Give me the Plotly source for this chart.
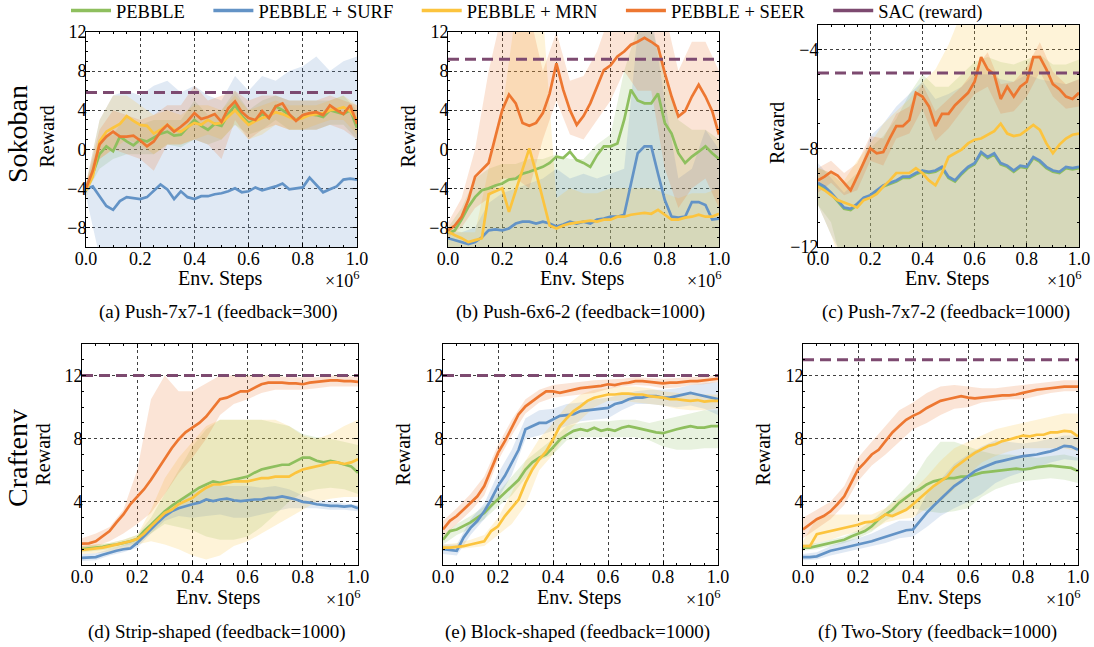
import plotly.graph_objects as go

# ---------------- data ----------------
X_MEAN = [i * 0.025 for i in range(41)]
X_BAND = [i * 0.05 for i in range(21)]
SERIES = ["PEBBLE", "PEBBLE + SURF", "PEBBLE + MRN", "PEBBLE + SEER"]
SAC_LABEL = "SAC (reward)"

# (a) Push-7x7-1
A_PEBBLE = [-4.0,-2.5,-0.5,0.3,-0.2,1.3,0.8,0.4,1.0,0.8,1.2,1.6,1.8,1.4,1.5,2.3,3.0,2.4,2.0,2.6,2.4,3.6,4.5,3.4,2.7,3.0,3.6,3.2,4.4,4.0,3.5,3.0,3.4,3.6,3.5,3.3,4.0,3.8,3.6,4.0,2.2]
A_SURF = [-4.1,-3.8,-4.8,-5.8,-6.2,-5.3,-4.9,-5.0,-5.1,-4.9,-4.3,-3.6,-4.1,-5.1,-4.3,-4.9,-5.1,-4.8,-4.8,-4.6,-4.5,-4.3,-4.0,-4.4,-4.3,-3.9,-4.2,-4.0,-3.8,-3.5,-4.1,-4.0,-3.9,-2.9,-3.7,-4.4,-4.1,-3.8,-3.1,-3.0,-3.1]
A_MRN = [-4.2,-2.8,0.8,1.8,2.2,2.6,3.4,2.9,2.5,2.4,1.6,2.0,2.5,2.0,1.8,2.3,2.7,2.5,3.0,2.6,2.7,3.3,4.0,3.2,2.5,2.9,3.2,3.4,3.8,3.6,3.3,3.0,3.2,3.5,3.6,3.7,4.0,4.1,4.3,3.9,3.0]
A_SEER = [-4.0,-2.2,0.5,1.3,1.8,1.3,1.3,1.4,0.9,0.3,0.8,1.8,2.5,1.8,2.3,2.9,3.7,3.1,3.3,3.6,2.8,4.2,4.9,3.8,3.2,3.0,3.9,3.2,4.4,4.7,3.6,2.9,3.5,3.7,3.8,3.5,4.5,4.0,3.6,4.5,2.6]
A_PEBBLE_HI = [-3.5,1.0,1.5,3.5,2.5,3.0,3.0,3.0,5.0,3.5,4.0,6.0,4.0,5.0,5.5,5.0,5.0,5.0,5.0,5.5,4.0]
A_PEBBLE_LO = [-4.5,-2.0,-1.0,-0.5,-0.5,-0.5,0.5,0.2,1.0,0.5,1.0,2.5,1.5,2.0,3.0,2.0,2.0,2.0,2.5,2.5,1.0]
A_SURF_HI = [-3.5,3.0,5.5,6.0,5.5,6.5,7.0,5.8,6.5,5.5,5.0,7.5,6.0,7.5,7.0,8.0,8.5,9.5,8.0,9.0,9.5]
A_SURF_LO = [-4.8,-11.0,-14.0,-14.0,-14.0,-14.0,-14.0,-14.0,-14.0,-14.0,-14.0,-14.0,-14.0,-14.0,-14.0,-14.0,-14.0,-14.0,-14.0,-14.0,-14.0]
A_MRN_HI = [-3.5,3.0,5.5,5.5,4.5,3.5,4.0,3.5,4.5,4.5,4.0,5.5,4.0,4.5,5.0,4.5,4.5,4.5,5.0,5.5,4.5]
A_MRN_LO = [-5.0,-1.0,0.0,1.0,0.5,-0.5,0.5,0.5,1.0,1.5,1.0,2.5,1.0,1.5,2.5,2.0,2.0,2.5,3.0,3.0,1.5]
A_SEER_HI = [-3.5,2.0,4.0,3.5,3.0,3.5,4.5,4.5,6.5,5.0,5.5,6.0,5.0,5.5,5.5,5.0,5.0,5.0,5.5,5.0,4.5]
A_SEER_LO = [-4.5,-1.0,0.0,-0.5,-1.0,-2.2,0.5,0.5,1.0,0.5,-1.0,3.0,1.0,2.0,2.5,2.0,2.0,2.0,2.5,2.0,1.0]
A_SAC = 5.8

# (b) Push-6x6-2
B_PEBBLE = [-8.6,-8.3,-7.2,-5.9,-4.9,-4.2,-4.0,-3.7,-3.5,-3.1,-3.0,-2.5,-2.3,-2.05,-1.8,-1.4,-0.75,-0.9,-0.25,-1.1,-1.4,-1.8,-0.6,0.3,0.3,0.6,3.0,6.1,5.0,4.7,4.7,5.7,2.7,1.6,-0.4,-1.4,-0.75,-0.25,0.3,-0.4,-1.0]
B_SURF = [-9.1,-9.3,-9.5,-9.7,-9.5,-9.0,-8.3,-8.2,-8.3,-8.1,-7.6,-7.4,-7.4,-7.6,-7.4,-7.6,-7.9,-7.7,-7.4,-7.6,-7.4,-7.6,-7.2,-7.1,-6.9,-6.9,-6.7,-3.5,-0.4,0.3,0.3,-2.5,-5.2,-6.9,-7.0,-6.9,-5.4,-5.4,-5.7,-7.2,-7.1]
B_MRN = [-8.4,-8.8,-9.1,-9.5,-9.3,-9.1,-4.6,-4.3,-4.0,-6.4,-4.2,-1.9,0.1,-2.4,-5.2,-7.8,-8.1,-7.8,-7.6,-7.5,-7.4,-7.3,-7.4,-7.2,-7.2,-6.9,-6.9,-6.7,-6.6,-6.5,-6.6,-6.2,-6.7,-7.2,-7.2,-7.0,-6.9,-6.7,-6.9,-6.9,-6.6]
B_SEER = [-8.3,-7.8,-6.9,-5.2,-2.8,-2.1,-1.4,1.3,4.0,5.6,4.7,2.7,2.4,2.7,3.7,5.7,8.8,6.1,4.0,2.5,3.4,4.7,6.4,8.1,8.6,9.5,10.0,10.7,11.0,11.4,11.0,10.5,7.8,5.4,3.35,3.9,5.4,6.6,5.4,3.9,1.5]
B_PEBBLE_HI = [-8.0,-6.0,-3.0,-2.0,-1.5,-1.5,-1.0,-1.0,-0.5,-1.0,-1.0,0.5,1.5,8.0,12.5,12.5,8.0,3.0,2.0,2.0,1.0]
B_PEBBLE_LO = [-11.0]*21
B_SURF_HI = [-8.5,-8.5,-8.0,-5.5,-4.5,-4.0,-3.5,-3.0,-2.0,-3.0,-2.5,-3.0,-2.5,-2.0,12.0,14.0,5.0,-3.0,-2.0,2.0,0.0]
B_SURF_LO = [-11.0]*21
B_MRN_HI = [-8.0,-8.5,-8.5,-2.0,4.0,14.0,14.0,14.0,-5.0,-4.0,-4.5,-4.5,-4.0,-4.0,-4.0,-4.0,-4.5,-5.0,-4.5,-4.5,-4.0]
B_MRN_LO = [-11.0]*21
B_SEER_HI = [-7.5,-5.0,0.0,8.0,14.0,14.0,14.0,8.0,12.0,7.0,7.5,10.0,14.0,14.0,14.0,14.0,14.0,8.0,11.0,11.0,8.0]
B_SEER_LO = [-9.0,-8.0,-6.0,-5.0,-3.0,-3.0,-4.0,1.0,5.0,1.5,1.0,3.0,5.0,8.0,6.0,6.0,-2.0,-6.0,-4.0,-3.0,-6.0]
B_SAC = 9.2

# (c) Push-7x7-2
C_PEBBLE = [-9.45,-9.6,-9.85,-10.15,-10.45,-10.5,-10.3,-10.05,-9.95,-9.75,-9.55,-9.45,-9.35,-9.2,-9.2,-9.05,-8.95,-9.0,-8.95,-8.8,-9.2,-9.35,-9.05,-8.8,-8.65,-8.2,-8.4,-8.25,-8.65,-8.75,-8.95,-8.75,-8.8,-8.4,-8.55,-8.8,-8.95,-9.0,-8.8,-8.85,-8.8]
C_SURF = [-9.4,-9.55,-9.8,-10.1,-10.4,-10.45,-10.25,-10.0,-9.9,-9.7,-9.5,-9.4,-9.3,-9.15,-9.15,-9.0,-8.9,-8.95,-8.9,-8.75,-9.15,-9.3,-9.0,-8.75,-8.6,-8.15,-8.35,-8.2,-8.6,-8.7,-8.9,-8.7,-8.75,-8.35,-8.5,-8.75,-8.9,-8.95,-8.75,-8.8,-8.75]
C_MRN = [-9.55,-9.7,-9.9,-10.1,-10.2,-10.3,-10.4,-10.1,-10.0,-9.85,-9.55,-9.3,-9.0,-9.0,-9.0,-8.8,-9.0,-9.3,-9.5,-9.0,-8.35,-8.2,-8.05,-7.8,-7.65,-7.6,-7.45,-7.3,-7.0,-7.4,-7.5,-7.45,-7.25,-7.05,-7.25,-7.8,-8.2,-7.85,-7.6,-7.45,-7.4]
C_SEER = [-9.3,-9.15,-8.95,-9.1,-9.4,-9.7,-9.15,-8.6,-8.0,-8.2,-8.15,-7.6,-7.1,-7.1,-6.85,-5.75,-5.9,-6.3,-7.1,-6.6,-6.6,-6.25,-6.0,-5.75,-5.3,-4.3,-4.8,-5.0,-6.0,-5.5,-5.9,-5.5,-5.3,-4.3,-4.3,-4.8,-5.4,-5.6,-5.9,-6.0,-5.75]
C_PEBBLE_HI = [-8.8,-9.0,-9.5,-9.0,-8.0,-7.5,-6.8,-5.8,-5.0,-5.5,-5.5,-5.0,-4.5,-4.3,-4.5,-4.6,-4.4,-4.2,-4.6,-4.6,-4.4]
C_PEBBLE_LO = [-10.3,-11.0,-13.0,-13.0,-13.0,-13.0,-13.0,-13.0,-13.0,-13.0,-13.0,-13.0,-13.0,-13.0,-13.0,-13.0,-13.0,-13.0,-13.0,-13.0,-13.0]
C_SURF_HI = [-8.6,-9.2,-9.8,-9.3,-7.5,-7.0,-6.3,-5.8,-5.3,-6.0,-5.8,-5.5,-5.0,-5.0,-5.2,-5.3,-5.0,-5.2,-5.3,-5.4,-5.2]
C_SURF_LO = [-10.3,-11.5,-12.5,-13.0,-13.0,-13.0,-13.0,-13.0,-13.0,-13.0,-13.0,-13.0,-13.0,-13.0,-13.0,-13.0,-13.0,-13.0,-13.0,-13.0,-13.0]
C_MRN_HI = [-8.8,-9.0,-9.3,-8.5,-7.8,-7.0,-6.5,-6.0,-5.3,-4.8,-3.8,-2.5,-2.0,-2.0,-2.0,-2.0,-2.0,-2.0,-2.0,-2.0,-2.0]
C_MRN_LO = [-10.3,-11.5,-13.0,-13.0,-13.0,-13.0,-13.0,-13.0,-13.0,-13.0,-13.0,-13.0,-13.0,-13.0,-13.0,-13.0,-13.0,-13.0,-13.0,-13.0,-13.0]
C_SEER_HI = [-8.8,-8.5,-9.0,-8.6,-7.5,-7.6,-6.6,-6.3,-5.4,-6.5,-6.0,-5.5,-4.8,-4.1,-5.4,-5.3,-4.7,-3.7,-4.9,-5.4,-5.2]
C_SEER_LO = [-9.8,-9.4,-9.9,-9.7,-8.5,-8.7,-7.6,-7.4,-6.4,-7.7,-7.2,-6.5,-5.8,-5.5,-6.6,-6.5,-5.9,-4.9,-5.9,-6.4,-6.3]
C_SAC = -4.95

# (d) Strip-shaped
D_PEBBLE = [1.0,1.05,1.1,1.15,1.25,1.3,1.4,1.5,1.65,2.15,2.55,3.0,3.4,3.75,4.05,4.35,4.6,4.9,5.1,5.3,5.2,5.3,5.4,5.5,5.6,5.85,6.05,6.15,6.25,6.35,6.35,6.6,6.8,6.8,6.6,6.5,6.6,6.5,6.35,6.25,5.85]
D_SURF = [0.45,0.47,0.5,0.65,0.8,0.9,1.0,1.05,1.4,1.85,2.25,2.7,3.1,3.4,3.6,3.75,3.85,3.95,4.15,4.05,4.15,4.2,4.1,4.05,4.1,4.15,4.15,4.25,4.25,4.35,4.25,4.15,4.0,3.95,3.85,3.8,3.75,3.75,3.7,3.75,3.6]
D_MRN = [0.95,1.0,1.05,1.1,1.2,1.3,1.4,1.5,1.65,2.0,2.45,2.9,3.3,3.5,3.85,4.05,4.25,4.6,4.9,5.1,5.1,5.2,5.3,5.3,5.3,5.4,5.5,5.5,5.6,5.6,5.6,5.85,6.05,6.15,6.25,6.35,6.5,6.5,6.4,6.5,6.7]
D_SEER = [1.35,1.37,1.5,1.85,2.15,2.7,3.2,3.85,4.35,4.8,5.4,6.05,6.7,7.4,7.95,8.4,8.7,9.0,9.4,9.95,10.5,10.6,10.8,11.0,11.0,11.2,11.45,11.55,11.55,11.55,11.5,11.5,11.45,11.55,11.6,11.65,11.7,11.7,11.65,11.65,11.6]
D_PEBBLE_HI = [1.2,1.3,1.4,1.6,1.9,3.0,4.5,6.0,7.5,8.6,9.2,9.2,9.2,9.2,9.0,8.8,8.3,8.1,8.0,7.8,7.6]
D_PEBBLE_LO = [0.8,0.9,1.0,1.2,1.4,2.0,2.6,2.4,2.2,1.8,1.6,1.6,1.8,2.4,3.2,4.0,4.6,4.8,4.9,4.8,4.5]
D_SURF_HI = [0.7,0.75,1.0,1.25,1.7,2.5,3.4,4.0,4.5,5.0,5.0,5.0,5.0,4.9,5.0,4.8,4.4,4.1,4.0,3.9,3.8]
D_SURF_LO = [0.25,0.3,0.6,0.8,1.1,2.0,2.8,3.1,3.0,3.1,3.2,3.0,3.0,3.2,3.4,3.6,3.6,3.6,3.5,3.5,3.4]
D_MRN_HI = [1.2,1.3,1.4,1.6,1.9,3.5,5.5,6.8,7.8,8.8,9.2,9.2,9.2,9.2,9.2,8.8,8.2,8.0,8.3,8.8,9.2]
D_MRN_LO = [0.7,0.75,0.85,1.0,1.3,1.5,1.3,1.0,0.6,0.35,0.6,1.2,1.5,2.0,2.5,3.0,3.5,4.0,4.2,4.3,4.3]
D_SEER_HI = [1.7,2.0,2.4,3.5,6.0,10.5,12.0,11.0,11.0,11.5,12.0,12.0,12.0,12.0,12.0,11.9,11.9,11.9,12.0,12.0,11.9]
D_SEER_LO = [1.1,1.2,1.5,2.0,2.6,3.3,4.5,5.8,6.8,8.0,9.5,10.2,10.5,10.9,11.1,11.1,11.1,11.2,11.3,11.3,11.3]
D_SAC = 12.0

# (e) Block-shaped
E_PEBBLE = [1.6,2.15,2.25,2.45,2.7,3.0,3.3,3.75,4.15,4.6,5.0,5.4,6.05,6.5,6.8,7.0,7.45,7.95,8.25,8.5,8.6,8.5,8.7,8.5,8.6,8.5,8.7,8.8,8.7,8.6,8.5,8.4,8.35,8.5,8.6,8.7,8.8,8.7,8.7,8.8,8.8]
E_SURF = [1.0,0.95,0.9,1.75,2.35,2.8,3.4,4.15,5.0,5.65,6.5,7.3,8.6,8.8,9.0,9.0,9.2,9.45,9.5,9.55,9.75,9.8,9.85,9.9,9.95,10.2,10.3,10.5,10.6,10.6,10.7,10.7,10.6,10.6,10.7,10.8,10.9,10.8,10.7,10.6,10.5]
E_MRN = [1.1,1.1,1.15,1.2,1.3,1.4,1.5,2.15,2.45,3.1,3.6,4.15,5.2,6.05,6.7,7.2,7.95,8.8,9.3,9.75,10.05,10.4,10.6,10.7,10.8,10.8,10.85,10.85,10.8,10.8,10.7,10.65,10.6,10.5,10.5,10.45,10.4,10.45,10.35,10.4,10.4]
E_SEER = [2.25,2.8,3.1,3.5,3.95,4.35,5.0,6.05,7.1,7.85,8.7,9.55,10.05,10.4,10.7,11.0,11.0,10.9,11.0,11.1,11.2,11.25,11.3,11.35,11.45,11.4,11.5,11.55,11.65,11.65,11.6,11.55,11.5,11.55,11.55,11.6,11.65,11.65,11.7,11.75,11.8]
E_PEBBLE_HI = [1.9,2.6,3.1,3.7,4.6,5.6,6.6,7.3,8.0,8.8,9.0,9.1,9.1,9.2,9.2,9.0,9.2,9.4,9.6,9.8,9.8]
E_PEBBLE_LO = [1.3,1.9,2.3,2.9,3.7,4.4,5.5,6.6,7.0,7.9,8.1,8.1,8.1,8.1,8.1,7.9,7.5,7.3,7.3,7.4,7.4]
E_SURF_HI = [1.3,1.3,2.9,3.9,5.8,7.3,9.3,9.8,9.9,10.2,10.3,10.5,10.6,10.8,11.0,11.1,11.1,11.2,11.4,11.5,11.6]
E_SURF_LO = [0.7,0.6,1.9,2.9,4.2,5.7,8.0,8.2,8.5,8.8,9.1,9.2,9.3,9.8,10.2,10.2,10.1,10.0,10.1,9.9,9.5]
E_MRN_HI = [1.3,1.4,1.6,1.9,3.0,4.6,6.6,8.0,9.0,10.1,10.8,11.1,11.2,11.3,11.3,11.2,11.0,10.9,10.8,10.8,10.8]
E_MRN_LO = [0.9,1.0,1.1,1.2,1.9,2.6,3.8,6.0,7.0,8.4,9.2,10.0,10.4,10.4,10.3,10.2,10.1,9.9,9.8,9.8,9.9]
E_SEER_HI = [2.8,3.6,4.5,5.6,7.6,9.2,10.5,11.1,11.4,11.5,11.6,11.7,11.75,11.8,11.9,11.85,11.8,11.85,11.9,11.95,12.0]
E_SEER_LO = [1.8,2.6,3.4,4.4,6.6,8.2,9.6,10.3,10.6,10.7,10.8,10.9,11.15,11.3,11.4,11.35,11.2,11.25,11.4,11.45,11.6]
E_SAC = 12.0

# (f) Two-Story
F_PEBBLE = [1.1,1.1,1.2,1.3,1.4,1.5,1.6,1.8,1.95,2.15,2.45,2.9,3.2,3.5,3.95,4.25,4.6,4.8,5.1,5.3,5.4,5.5,5.5,5.6,5.6,5.75,5.85,5.9,5.95,6.0,6.05,6.1,6.05,6.1,6.2,6.25,6.3,6.25,6.2,6.15,5.95]
F_SURF = [0.5,0.5,0.55,0.75,0.9,1.0,1.1,1.2,1.3,1.4,1.5,1.65,1.8,1.95,2.05,2.2,2.25,2.8,3.3,3.75,4.15,4.6,5.0,5.3,5.6,5.95,6.15,6.35,6.5,6.6,6.7,6.8,6.9,6.95,7.0,7.1,7.2,7.35,7.55,7.5,7.3]
F_MRN = [1.2,1.2,1.95,2.05,2.15,2.25,2.35,2.45,2.55,2.7,2.75,2.9,3.2,3.1,3.3,3.5,3.85,4.25,4.6,5.0,5.3,5.6,6.15,6.5,6.8,7.1,7.35,7.55,7.65,7.85,7.95,8.1,8.2,8.15,8.25,8.25,8.4,8.4,8.5,8.45,8.15]
F_SEER = [2.25,2.55,2.9,3.1,3.4,3.85,4.35,5.2,6.05,6.5,7.0,7.3,7.85,8.4,8.8,9.2,9.45,9.65,9.95,10.2,10.4,10.5,10.6,10.7,10.6,10.55,10.6,10.65,10.7,10.75,10.75,10.8,10.9,11.0,11.1,11.15,11.2,11.25,11.3,11.3,11.3]
F_PEBBLE_HI = [1.3,1.4,1.6,1.8,2.2,2.8,3.6,4.5,5.4,6.8,7.8,7.8,7.5,7.2,7.0,7.0,6.9,6.8,6.9,7.0,6.8]
F_PEBBLE_LO = [0.9,1.0,1.2,1.4,1.7,2.1,2.8,3.3,3.6,3.4,3.3,3.4,3.6,4.3,4.8,5.1,5.3,5.4,5.5,5.4,5.2]
F_SURF_HI = [0.7,0.8,1.2,1.5,1.7,2.0,2.4,2.8,2.8,4.5,5.4,6.4,7.0,7.5,7.9,7.8,7.7,7.8,8.0,8.2,8.2]
F_SURF_LO = [0.3,0.35,0.6,0.8,1.0,1.2,1.4,1.7,1.8,2.4,3.1,3.6,4.0,4.5,5.2,5.6,5.9,6.2,6.5,6.7,6.6]
F_MRN_HI = [1.5,3.0,3.2,3.2,3.2,3.2,3.6,4.2,4.7,5.6,6.6,7.4,7.8,8.2,8.6,8.8,9.0,9.2,9.4,9.6,9.6]
F_MRN_LO = [0.9,1.4,1.6,1.9,2.1,2.2,2.7,2.9,3.0,3.6,4.0,4.8,5.7,6.5,6.9,7.2,7.4,7.4,7.4,7.4,7.2]
F_SEER_HI = [3.0,3.5,4.0,5.0,6.8,7.8,8.8,9.8,10.3,10.9,11.3,11.4,11.3,11.2,11.2,11.3,11.4,11.5,11.6,11.7,11.7]
F_SEER_LO = [1.7,2.3,2.9,3.8,5.3,6.3,7.0,7.8,8.6,9.0,9.5,9.9,10.0,10.3,10.4,10.5,10.5,10.7,10.9,11.0,11.0]
F_SAC = 13.0

SUBTITLES = ["(a) Push-7x7-1 (feedback=300)", "(b) Push-6x6-2 (feedback=1000)", "(c) Push-7x7-2 (feedback=1000)",
             "(d) Strip-shaped (feedback=1000)", "(e) Block-shaped (feedback=1000)", "(f) Two-Story (feedback=1000)"]
ROW_LABELS = ["Sokoban", "Craftenv"]
X_TICKS = [0.0, 0.2, 0.4, 0.6, 0.8, 1.0]

# ---------------- style ----------------
COLORS = ["#8EBF5E", "#6393C6", "#FCC43E", "#ED7731"]
BAND_RGB = ["142,191,94", "99,147,198", "252,196,62", "237,119,49"]
SAC_COLOR = "#7D4A70"
FONT = "Liberation Serif"
W, H = 1094, 647
LEGEND_PAD = "\u00a0" * 4

panels = [
    dict(means=[A_PEBBLE, A_SURF, A_MRN, A_SEER], his=[A_PEBBLE_HI, A_SURF_HI, A_MRN_HI, A_SEER_HI],
         los=[A_PEBBLE_LO, A_SURF_LO, A_MRN_LO, A_SEER_LO], sac=A_SAC, yr=[-10, 12], yt=[-8, -4, 0, 4, 8, 12],
         box=(86, 357, 32, 247)),
    dict(means=[B_PEBBLE, B_SURF, B_MRN, B_SEER], his=[B_PEBBLE_HI, B_SURF_HI, B_MRN_HI, B_SEER_HI],
         los=[B_PEBBLE_LO, B_SURF_LO, B_MRN_LO, B_SEER_LO], sac=B_SAC, yr=[-10, 12], yt=[-8, -4, 0, 4, 8, 12],
         box=(448, 719, 32, 247)),
    dict(means=[C_PEBBLE, C_SURF, C_MRN, C_SEER], his=[C_PEBBLE_HI, C_SURF_HI, C_MRN_HI, C_SEER_HI],
         los=[C_PEBBLE_LO, C_SURF_LO, C_MRN_LO, C_SEER_LO], sac=C_SAC, yr=[-12, -3], yt=[-12, -8, -4],
         box=(818, 1079, 25, 247)),
    dict(means=[D_PEBBLE, D_SURF, D_MRN, D_SEER], his=[D_PEBBLE_HI, D_SURF_HI, D_MRN_HI, D_SEER_HI],
         los=[D_PEBBLE_LO, D_SURF_LO, D_MRN_LO, D_SEER_LO], sac=D_SAC, yr=[0, 14], yt=[4, 8, 12],
         box=(82, 358, 344, 565)),
    dict(means=[E_PEBBLE, E_SURF, E_MRN, E_SEER], his=[E_PEBBLE_HI, E_SURF_HI, E_MRN_HI, E_SEER_HI],
         los=[E_PEBBLE_LO, E_SURF_LO, E_MRN_LO, E_SEER_LO], sac=E_SAC, yr=[0, 14], yt=[4, 8, 12],
         box=(443, 718, 344, 565)),
    dict(means=[F_PEBBLE, F_SURF, F_MRN, F_SEER], his=[F_PEBBLE_HI, F_SURF_HI, F_MRN_HI, F_SEER_HI],
         los=[F_PEBBLE_LO, F_SURF_LO, F_MRN_LO, F_SEER_LO], sac=F_SAC, yr=[0, 14], yt=[4, 8, 12],
         box=(803, 1078, 344, 565)),
]

fig = go.Figure()
annotations = []


def px(x):
    return x / W


def py(y):
    return 1 - y / H


def label(text, x, y, size, angle=0, xanchor="center"):
    return dict(text=text, x=px(x), y=py(y), xref="paper", yref="paper", showarrow=False,
                xanchor=xanchor, yanchor="middle", textangle=angle,
                font=dict(family=FONT, size=size, color="black"))


for i, p in enumerate(panels):
    n = "" if i == 0 else str(i + 1)
    xa, ya = "x" + n, "y" + n
    # bands
    for k in range(4):
        fig.add_trace(go.Scatter(
            x=X_BAND + X_BAND[::-1], y=p["his"][k] + p["los"][k][::-1],
            fill="toself", fillcolor=f"rgba({BAND_RGB[k]},0.2)", line=dict(width=0),
            mode="lines", hoverinfo="skip", showlegend=False, xaxis=xa, yaxis=ya))
    # mean lines
    for k in range(4):
        fig.add_trace(go.Scatter(
            x=X_MEAN, y=p["means"][k], mode="lines", line=dict(color=COLORS[k], width=2.7),
            showlegend=False, xaxis=xa, yaxis=ya, name=SERIES[k]))
    # SAC reference
    fig.add_trace(go.Scatter(
        x=[0, 1], y=[p["sac"], p["sac"]], mode="lines",
        line=dict(color=SAC_COLOR, width=3, dash="11px,6px"),
        showlegend=False, xaxis=xa, yaxis=ya, name=SAC_LABEL))

    l, r, t, b = p["box"]
    axis_common = dict(
        showline=True, linecolor="black", linewidth=1, mirror="allticks",
        ticks="inside", ticklen=4, tickwidth=1, tickcolor="black", automargin=False,
        showgrid=True, gridcolor="rgba(0,0,0,0.75)", gridwidth=0.7, griddash="dot",
        zeroline=False, tickfont=dict(family=FONT, size=18, color="black"),
    )
    fig.update_layout({
        "xaxis" + n: dict(axis_common, domain=[px(l), px(r)], range=[0, 1], tickvals=X_TICKS,
                           ticktext=[f"{v:.1f}" for v in X_TICKS], anchor=ya, ticklabelstandoff=-5,
                           minor=dict(ticks="inside", ticklen=2, dtick=0.05, tickcolor="black", showgrid=False)),
        "yaxis" + n: dict(axis_common, domain=[py(b), py(t)], range=p["yr"], tickvals=p["yt"], anchor=xa,
                           ticklabelstandoff=-5,
                           minor=dict(ticks="inside", ticklen=2, dtick=1, tickcolor="black", showgrid=False)),
    })

    cx = (l + r) / 2
    row = 0 if i < 3 else 1
    annotations.append(label("Env. Steps", cx - 2, b + (31 if row == 0 else 32), 20))
    annotations.append(label("×10<sup>6</sup>", r + 4, b + 33, 18, xanchor="right"))
    rx = l - 40 if i % 3 == 0 else l - 41
    annotations.append(label("Reward", rx, (t + b) / 2 + (-3 if row == 0 else 0), 20, angle=-90))
    annotations.append(label(SUBTITLES[i], cx - 3, b + (65 if row == 0 else 67), 19))

annotations.append(label(ROW_LABELS[0], 17, 134, 28, angle=-90))
annotations.append(label(ROW_LABELS[1], 17, 458, 28, angle=-90))

# legend-only entries (solid lines)
for k in range(4):
    fig.add_trace(go.Scatter(x=[None], y=[None], mode="lines", line=dict(color=COLORS[k], width=3.5),
                             name=SERIES[k] + LEGEND_PAD, showlegend=True))
fig.add_trace(go.Scatter(x=[None], y=[None], mode="lines", line=dict(color=SAC_COLOR, width=3.5),
                         name=SAC_LABEL, showlegend=True))

fig.update_layout(
    width=W, height=H, margin=dict(l=0, r=0, t=0, b=0, autoexpand=False),
    paper_bgcolor="white", plot_bgcolor="white",
    font=dict(family=FONT, size=16, color="black"),
    annotations=annotations,
    legend=dict(orientation="h", x=px(66), y=py(-8), xanchor="left", yanchor="top",
                font=dict(family=FONT, size=18.5, color="black"), bgcolor="rgba(0,0,0,0)",
                itemwidth=40, tracegroupgap=0),
)

fig.write_html("out.html", config={"displayModeBar": False},
               post_script="document.body.style.margin='0px';")
